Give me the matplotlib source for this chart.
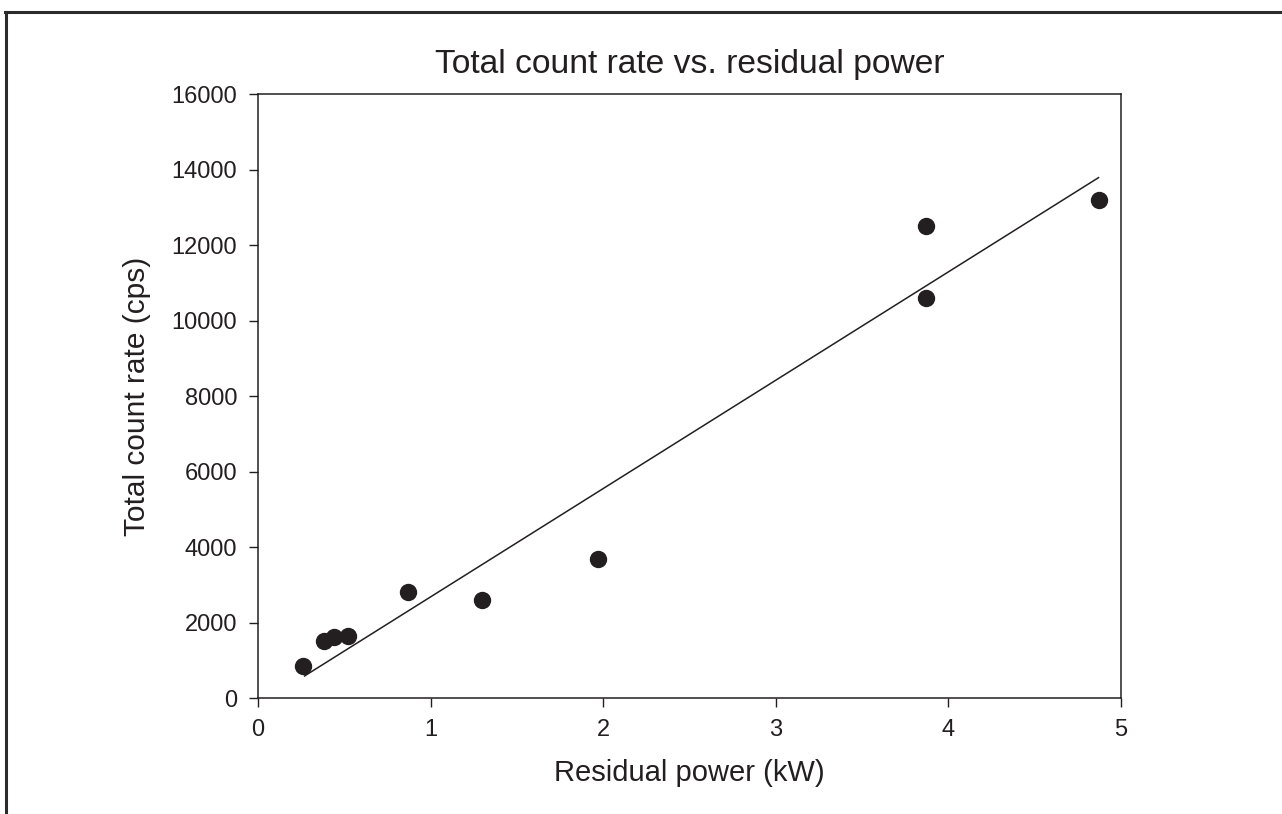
import numpy as np
import matplotlib.pyplot as plt
from matplotlib.lines import Line2D

plt.rcParams['font.family'] = ['Liberation Sans', 'DejaVu Sans']

# residual power (kW) and total count rate (cps)
power_kw = [0.26, 0.38, 0.44, 0.52, 0.87, 1.30, 1.97, 3.87, 3.87, 4.87]
count_rate = [850, 1510, 1620, 1640, 2800, 2600, 3670, 12500, 10600, 13200]

# linear fit drawn over the measured range
fit_slope = 2870.0
fit_intercept = -192.0
fit_x = [0.27, 4.87]

ink = '#231f20'

fig = plt.figure(figsize=(12.82, 8.14), dpi=100)
ax = fig.add_axes([0.2012, 0.1425, 0.6732, 0.742])

ax.plot(power_kw, count_rate, 'o', color=ink, markersize=11.5, zorder=3)
fx = np.array(fit_x)
ax.plot(fx, fit_slope * fx + fit_intercept, '-', color=ink, linewidth=1.1)

ax.set_xlim(0, 5)
ax.set_ylim(0, 16000)
ax.set_xticks(range(0, 6))
ax.set_yticks(range(0, 16001, 2000))
ax.tick_params(axis='both', direction='out', length=6.5, width=1.0,
               color=ink, labelcolor=ink, labelsize=17, pad=8.5)
for s in ax.spines.values():
    s.set_linewidth(1.1)
    s.set_color(ink)

ax.set_title('Total count rate vs. residual power', fontsize=24.2, color=ink, pad=15)
ax.set_xlabel('Residual power (kW)', fontsize=21, color=ink, labelpad=13)
ax.set_ylabel('Total count rate (cps)', fontsize=21.5, color=ink, labelpad=15)

# page frame on the left and top
W, H = 1282, 814
fig.add_artist(Line2D([5.5 / W, 5.5 / W], [0, 1 - 11.5 / H], color='#2b2b2b',
                      linewidth=2.2, transform=fig.transFigure))
fig.add_artist(Line2D([4.5 / W, 1], [1 - 11.5 / H, 1 - 11.5 / H], color='#2b2b2b',
                      linewidth=2.2, transform=fig.transFigure))

fig.savefig('out.png', dpi=100)
